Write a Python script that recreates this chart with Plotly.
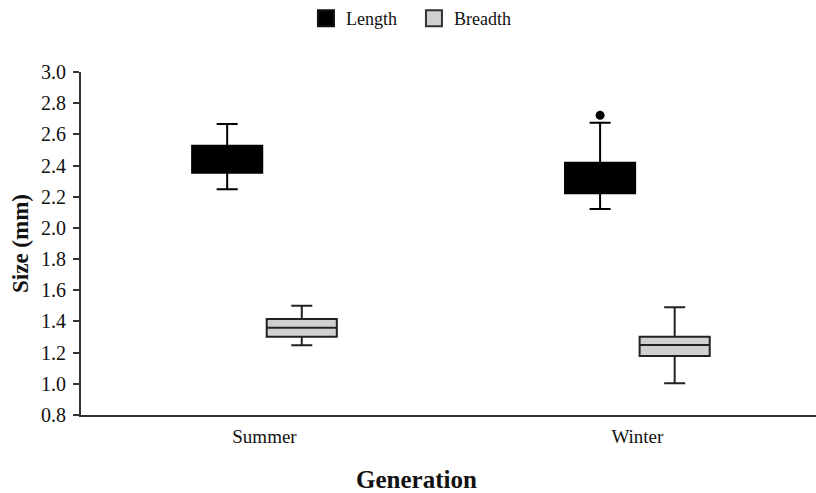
import plotly.graph_objects as go

categories = ["Summer", "Winter"]

length_lower = [2.248, 2.121]
length_q1 = [2.354, 2.222]
length_median = [2.44, 2.32]
length_q3 = [2.527, 2.418]
length_upper = [2.667, 2.675]
length_outlier_category = ["Winter"]
length_outlier_value = [2.722]

breadth_lower = [1.247, 1.003]
breadth_q1 = [1.302, 1.178]
breadth_median = [1.36, 1.249]
breadth_q3 = [1.416, 1.302]
breadth_upper = [1.501, 1.491]

y_ticks = [0.8, 1.0, 1.2, 1.4, 1.6, 1.8, 2.0, 2.2, 2.4, 2.6, 2.8, 3.0]

FONT = "Liberation Serif"
BOXGAP = 0.6
BOXGROUPGAP = 0.06

pos = list(range(len(categories)))
length_offset = -(1 - BOXGAP) / 4
outlier_x = [categories.index(c) + length_offset for c in length_outlier_category]

fig = go.Figure()
fig.add_trace(go.Box(
    name="Length", x=pos, showlegend=False,
    q1=length_q1, median=length_median, q3=length_q3,
    lowerfence=length_lower, upperfence=length_upper,
    boxpoints=False, whiskerwidth=0.3,
    fillcolor="#000000", line=dict(color="#000000", width=2),
))
fig.add_trace(go.Box(
    name="Breadth", x=pos, showlegend=False,
    q1=breadth_q1, median=breadth_median, q3=breadth_q3,
    lowerfence=breadth_lower, upperfence=breadth_upper,
    boxpoints=False, whiskerwidth=0.3,
    fillcolor="#d0d0d0", line=dict(color="#222222", width=2),
))
fig.add_trace(go.Scatter(
    x=outlier_x, y=length_outlier_value, mode="markers", showlegend=False,
    marker=dict(color="#000000", size=9),
))
# legend entries
fig.add_trace(go.Scatter(
    x=[None], y=[None], mode="markers", name="Length",
    marker=dict(symbol="square", size=16, color="#000000", line=dict(color="#111111", width=2)),
))
fig.add_trace(go.Scatter(
    x=[None], y=[None], mode="markers", name="Breadth",
    marker=dict(symbol="square", size=16, color="#d0d0d0", line=dict(color="#333333", width=2)),
))

fig.update_layout(
    width=816, height=493,
    margin=dict(l=81, r=0, t=72, b=78),
    paper_bgcolor="white", plot_bgcolor="white",
    font=dict(family=FONT, color="#111111", size=19),
    boxmode="group", boxgap=BOXGAP, boxgroupgap=BOXGROUPGAP,
    showlegend=True,
    legend=dict(orientation="h", x=0.453, xanchor="center", xref="paper",
                y=1.0, yref="container", yanchor="top",
                font=dict(size=18, family=FONT), itemwidth=30,
                entrywidth=63, entrywidthmode="pixels"),
    xaxis=dict(
        tickvals=pos, ticktext=categories,
        range=[-0.492, 1.479], showline=True, linecolor="#333333", linewidth=2,
        ticks="", showgrid=False, zeroline=False, ticklabelstandoff=3,
        tickfont=dict(size=19, family=FONT),
    ),
    yaxis=dict(
        range=[0.8, 3.0], tickvals=y_ticks, ticktext=[f"{v:.1f}" for v in y_ticks],
        showline=True, linecolor="#333333", linewidth=2,
        ticks="outside", ticklen=6, tickwidth=2, tickcolor="#333333",
        showgrid=False, zeroline=False, ticklabelstandoff=3,
        tickfont=dict(size=20, family=FONT),
        title=dict(text="<b>Size (mm)</b>", font=dict(size=23, family=FONT), standoff=6),
    ),
    annotations=[dict(
        text="<b>Generation</b>", xref="paper", yref="paper", x=0.457, y=0,
        xanchor="center", yanchor="middle", yshift=-64, showarrow=False,
        font=dict(size=25, family=FONT, color="#111111"),
    )],
)

fig.write_html("out.html")
